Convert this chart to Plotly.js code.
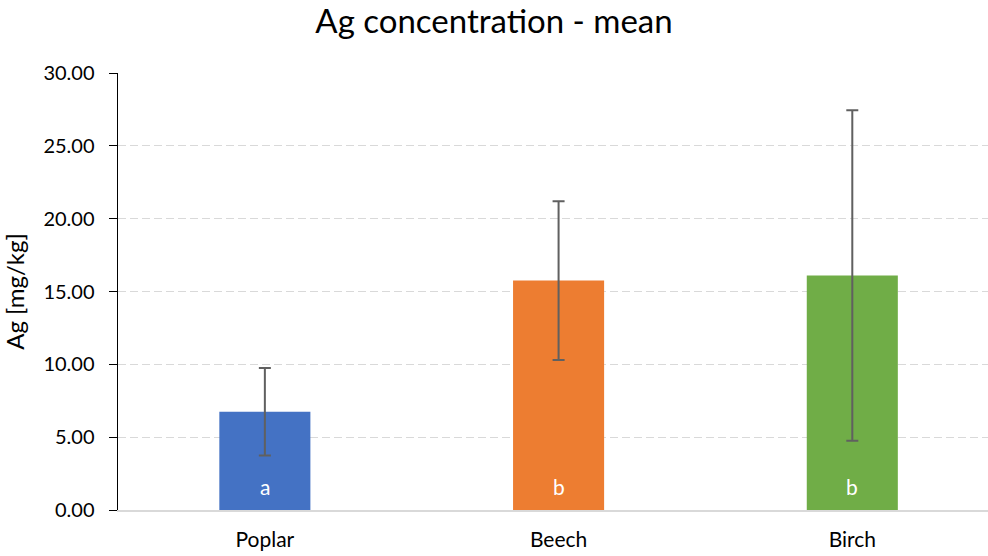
<!DOCTYPE html>
<html>
<head>
<meta charset="utf-8">
<script src="https://cdn.plot.ly/plotly-3.0.1.min.js"></script>
<style>html,body{margin:0;padding:0;background:#fff;}#chart{width:988px;height:556px;}</style>
</head>
<body>
<div id="chart"></div>
<script>
const categories = ["Poplar", "Beech", "Birch"];
const means = [6.75, 15.75, 16.1];
const errors = [3.0, 5.45, 11.35];
const letters = ["a", "b", "b"];
const colors = ["#4472C4", "#ED7D31", "#70AD47"];
const yTicks = [0, 5, 10, 15, 20, 25, 30];

const font = "Lato, 'Open Sans', sans-serif";

const trace = {
  type: "bar",
  x: categories,
  y: means,
  width: 0.31,
  marker: {color: colors},
  error_y: {type: "data", array: errors, visible: true, color: "#606060", thickness: 2, width: 6},
  hoverinfo: "none"
};

const annotations = categories.map((c, i) => ({
  x: c, y: 0, xref: "x", yref: "y", text: letters[i], showarrow: false,
  yshift: 24, font: {family: font, size: 21, color: "#ffffff"}
}));

const layout = {
  width: 988, height: 556,
  margin: {l: 118, r: 0, t: 73, b: 46},
  paper_bgcolor: "#fff", plot_bgcolor: "#fff",
  title: {text: "Ag concentration - mean", font: {family: font, size: 33, color: "#000"}, x: 0.5, xanchor: "center", y: 0.962, yanchor: "middle"},
  xaxis: {
    range: [-0.5, 2.462],
    showgrid: false, zeroline: false,
    showline: true, linecolor: "#d9d9d9", linewidth: 2,
    ticks: "", ticklabelstandoff: 10,
    tickfont: {family: font, size: 21, color: "#000"}
  },
  yaxis: {
    range: [0, 30], tickvals: yTicks, tickformat: ".2f",
    showgrid: true, gridcolor: "#d9d9d9", griddash: "8px,4px", gridwidth: 1,
    zeroline: false, showline: true, linecolor: "#000", linewidth: 1.5,
    ticks: "outside", ticklen: 8, tickcolor: "#000", ticklabelstandoff: 10,
    tickfont: {family: font, size: 20, color: "#000"},
    title: {text: "Ag [mg/kg]", font: {family: font, size: 24, color: "#000"}, standoff: 12}
  },
  annotations: annotations,
  showlegend: false,
  bargap: 0.69
};

Plotly.newPlot("chart", [trace], layout, {displayModeBar: false, staticPlot: true});
</script>
</body>
</html>
